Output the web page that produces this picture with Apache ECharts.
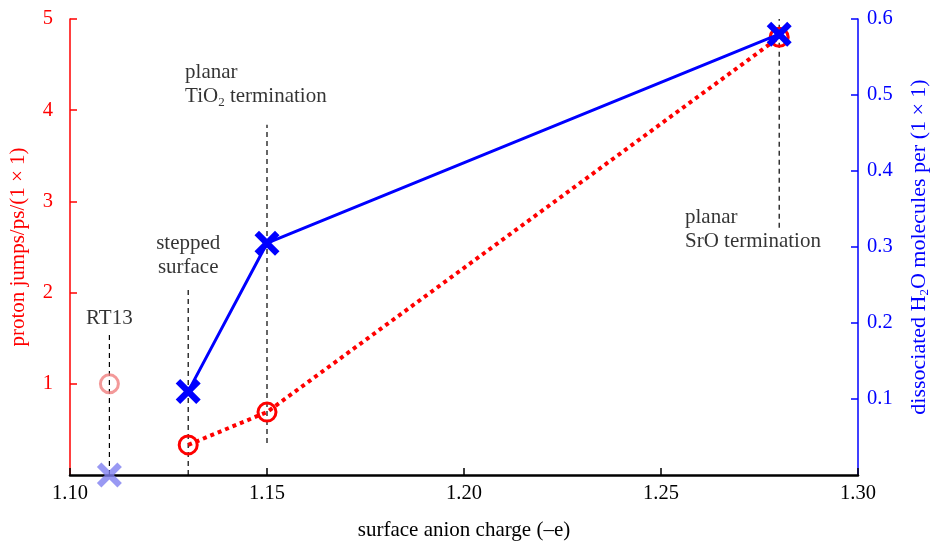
<!DOCTYPE html>
<html><head><meta charset="utf-8">
<script src="https://cdn.jsdelivr.net/npm/echarts@6/dist/echarts.min.js"></script>
<style>html,body{margin:0;padding:0;background:#fff}#c{width:931px;height:542px}</style>
</head><body><div id="c"></div>
<script>
// Data
const charge = [1.13, 1.15, 1.28];
const protonJumps = [0.33, 0.69, 4.8];
const dissociated = [0.11, 0.305, 0.58];
const rt13Charge = 1.11;
const rt13Proton = 1.0;
const rt13Dissociated = 0.0;
const xTicks = [1.10, 1.15, 1.20, 1.25, 1.30];
// guide lines: x, yFrom, yTo (left axis units)
const guideX = [1.11, 1.13, 1.15, 1.28];
const guideFrom = [0, 0, 0.35, 2.71];
const guideTo = [1.57, 2.07, 3.84, 5.0];
// annotation labels: x, y (left axis units), text, align
const annX = [1.11, 1.13, 1.1292, 1.2561];
const annY = [1.72, 2.41, 4.28, 2.69];
const annText = ['RT13', 'stepped\nsurface', 'planar\nTiO{sub|2} termination', 'planar\nSrO termination'];
const annAlign = ['center', 'center', 'left', 'left'];

const RED = '#ff0000', BLUE = '#0000ff', FONT = 'Liberation Serif', FS = 21, TFS = 20.5;
const xShape = 'path://M0,1.8L1.8,0L5,3.2L8.2,0L10,1.8L6.8,5L10,8.2L8.2,10L5,6.8L1.8,10L0,8.2L3.2,5Z';

const chart = echarts.init(document.getElementById('c'), null, {renderer: 'canvas'});
const series = [];
guideX.forEach((x, i) => {
  series.push({type: 'line', yAxisIndex: 0, symbol: 'none', silent: true, z: 1,
    lineStyle: {color: '#000', width: 1.2, type: [5, 4]},
    data: [[x, guideFrom[i]], [x, guideTo[i]]]});
});
series.push({type: 'line', yAxisIndex: 0, z: 3,
  data: charge.map((c, i) => [c, protonJumps[i]]),
  symbol: 'circle', symbolSize: 18, showSymbol: true,
  lineStyle: {color: RED, width: 4, type: [4, 4]},
  itemStyle: {color: 'rgba(0,0,0,0)', borderColor: RED, borderWidth: 3}});
series.push({type: 'scatter', yAxisIndex: 0, z: 3,
  data: [[rt13Charge, rt13Proton]], symbol: 'circle', symbolSize: 18,
  itemStyle: {color: 'rgba(0,0,0,0)', borderColor: '#f08080', borderWidth: 3}});
series.push({type: 'line', yAxisIndex: 1, z: 4,
  data: charge.map((c, i) => [c, dissociated[i]]),
  symbol: xShape, symbolSize: 25, showSymbol: true,
  lineStyle: {color: BLUE, width: 3},
  itemStyle: {color: BLUE}});
series.push({type: 'scatter', yAxisIndex: 1, z: 4,
  data: [[rt13Charge, rt13Dissociated]], symbol: xShape, symbolSize: 25,
  itemStyle: {color: '#8080f0'}});
series.push({type: 'scatter', yAxisIndex: 0, z: 5, symbolSize: 0, silent: true,
  data: annX.map((x, i) => ({value: [x, annY[i]], label: {align: annAlign[i], formatter: annText[i]}})),
  label: {show: true, position: 'inside', color: '#000', fontFamily: FONT, fontSize: FS, lineHeight: 24,
    rich: {sub: {fontSize: 13, fontFamily: FONT, color: '#000', verticalAlign: 'bottom', lineHeight: 13}}}});

chart.setOption({
  animation: false,
  backgroundColor: '#fff',
  grid: {left: 70, right: 73, top: 19, bottom: 67, outerBoundsMode: 'none', containLabel: false},
  xAxis: {type: 'value', min: 1.10, max: 1.30, interval: 0.05,
    name: 'surface anion charge (–e)', nameLocation: 'middle', nameGap: 45,
    nameTextStyle: {color: '#000', fontFamily: FONT, fontSize: FS},
    axisLine: {show: true, lineStyle: {color: '#000', width: 2.5}},
    axisTick: {show: true, inside: true, length: 7, lineStyle: {color: '#000', width: 1.5}},
    axisLabel: {color: '#000', fontFamily: FONT, fontSize: TFS, margin: 8,
      formatter: v => xTicks.find(t => Math.abs(t - v) < 1e-6)?.toFixed(2) ?? ''},
    splitLine: {show: false}},
  yAxis: [
    {type: 'value', min: 0, max: 5, interval: 1, position: 'left',
      name: 'proton jumps/ps/(1 × 1)', nameLocation: 'middle', nameGap: 41,
      nameTextStyle: {color: RED, fontFamily: FONT, fontSize: FS},
      axisLine: {show: true, lineStyle: {color: RED, width: 1.5}},
      axisTick: {show: true, inside: true, length: 7, lineStyle: {color: RED, width: 1.5}},
      axisLabel: {color: RED, fontFamily: FONT, fontSize: TFS, margin: 17, showMinLabel: false},
      splitLine: {show: false}},
    {type: 'value', min: 0, max: 0.6, interval: 0.1, position: 'right',
      name: 'dissociated H{sub|2}O molecules per (1 × 1)', nameLocation: 'middle', nameGap: 49,
      nameTextStyle: {color: BLUE, fontFamily: FONT, fontSize: 22, lineHeight: 24,
        rich: {sub: {color: BLUE, fontFamily: FONT, fontSize: 13, verticalAlign: 'bottom', lineHeight: 13}}},
      axisLine: {show: true, lineStyle: {color: BLUE, width: 1.5}},
      axisTick: {show: true, inside: true, length: 7, lineStyle: {color: BLUE, width: 1.5}},
      axisLabel: {color: BLUE, fontFamily: FONT, fontSize: TFS, margin: 9, showMinLabel: false,
        formatter: v => v.toFixed(1)},
      splitLine: {show: false}}
  ],
  series: series
});
</script></body></html>
